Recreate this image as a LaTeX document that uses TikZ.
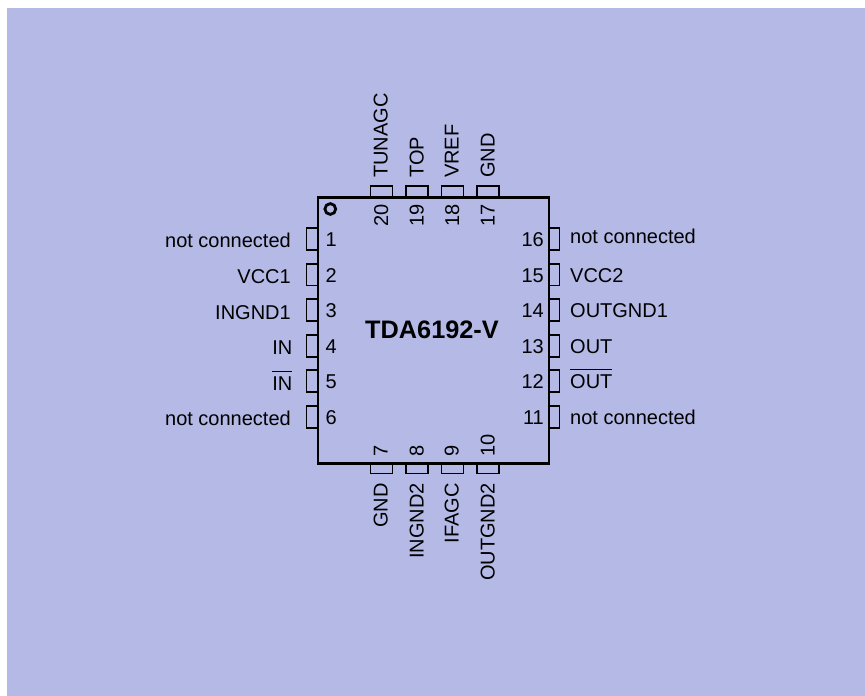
\documentclass[tikz,border=0pt]{standalone}
\usepackage{fontspec}
\setmainfont{Liberation Sans}
\definecolor{bgblue}{HTML}{B4B9E6}
\newsavebox{\barbox}
\newcommand{\barred}[1]{\sbox{\barbox}{#1}\rlap{\rule[18.5pt]{\wd\barbox}{1.2pt}}\usebox{\barbox}}
\tikzset{
  chip/.style={draw=black,line width=2.8pt,fill=none,line join=miter},
  pinbox/.style={draw=black,line width=1.5pt,fill=none},
  dot/.style={draw=black,line width=2.8pt,fill=none},
  lbl/.style={inner sep=0pt,font=\fontsize{20}{22}\selectfont},
  lblL/.style={lbl,anchor=base east},
  lblR/.style={lbl,anchor=base west},
  lblUp/.style={lbl,anchor=base west,rotate=90},
  lblDn/.style={lbl,anchor=base east,rotate=90},
  title/.style={inner sep=0pt,anchor=base,font=\bfseries\fontsize{25.3}{27}\selectfont}
}
\begin{document}
\begin{tikzpicture}[x=1pt,y=-1pt]
\useasboundingbox (0,0) rectangle (865,696);
\fill[white] (0,0) rectangle (865,696);
\fill[bgblue] (7,8) rectangle (865,696);
% pins
\foreach \n/\y in {p1/239,p2/274.6,p3/310,p4/346,p5/381,p6/417}
  \draw[pinbox] (306.5,\y-10.8) rectangle (318,\y+10.8);
\foreach \n/\y in {p16/239,p15/274.6,p14/310,p13/346,p12/381,p11/417}
  \draw[pinbox] (549,\y-10.8) rectangle (559.5,\y+10.8);
\foreach \x in {381.5,417,452.5,488}{
  \draw[pinbox] (\x-10.8,186) rectangle (\x+10.8,197);
  \draw[pinbox] (\x-10.8,463) rectangle (\x+10.8,473.5);
}
\node[title] (name) at (432,338) {TDA6192-V};
\draw[chip] (318,197.6) rectangle (549,463.4);
\draw[dot] (330.3,209) circle (5.4);
% left side
\node[lblL] (l1) at (291,247.5) {not connected};
\node[lblL] (l2) at (291,283.5) {VCC1};
\node[lblL] (l3) at (291,319.5) {INGND1};
\node[lblL] (l4) at (292.5,354.5) {IN};
\node[lblL] (l5) at (292.5,390.5) {\barred{IN}};
\node[lblL] (l6) at (291,425.5) {not connected};
\node[lblR] (n1) at (325.5,246.5) {1};
\node[lblR] (n2) at (325.5,282.5) {2};
\node[lblR] (n3) at (325.5,317.5) {3};
\node[lblR] (n4) at (325.5,353.5) {4};
\node[lblR] (n5) at (325.5,388.5) {5};
\node[lblR] (n6) at (325.5,424.5) {6};
% right side
\node[lblR] (r16) at (570,243.5) {not connected};
\node[lblR] (r15) at (570,282.5) {VCC2};
\node[lblR] (r14) at (570,317.5) {OUTGND1};
\node[lblR] (r13) at (570,353.5) {OUT};
\node[lblR] (r12) at (570,388.5) {\barred{OUT}};
\node[lblR] (r11) at (570,424.5) {not connected};
\node[lblL] (n16) at (544,246.5) {16};
\node[lblL] (n15) at (544,282.5) {15};
\node[lblL] (n14) at (544,317.5) {14};
\node[lblL] (n13) at (544,353.5) {13};
\node[lblL] (n12) at (544,388.5) {12};
\node[lblL] (n11) at (544,424.5) {11};
% top
\node[lblUp] (t20) at (387.5,178) {TUNAGC};
\node[lblUp] (t19) at (423.5,178) {TOP};
\node[lblUp] (t18) at (458.5,178) {VREF};
\node[lblUp] (t17) at (494.5,178) {GND};
\node[lblUp] (n20) at (388,227) {20};
\node[lblUp] (n19) at (423.5,227) {19};
\node[lblUp] (n18) at (459,227) {18};
\node[lblUp] (n17) at (494.5,227) {17};
% bottom
\node[lblUp] (n7) at (387.5,457) {7};
\node[lblUp] (n8) at (423.5,457) {8};
\node[lblUp] (n9) at (458.5,457) {9};
\node[lblUp] (n10) at (494.5,457) {10};
\node[lblDn] (b7) at (387.5,483) {GND};
\node[lblDn] (b8) at (423.5,483) {INGND2};
\node[lblDn] (b9) at (458.5,483) {IFAGC};
\node[lblDn] (b10) at (494.5,483) {OUTGND2};
\end{tikzpicture}
\end{document}
